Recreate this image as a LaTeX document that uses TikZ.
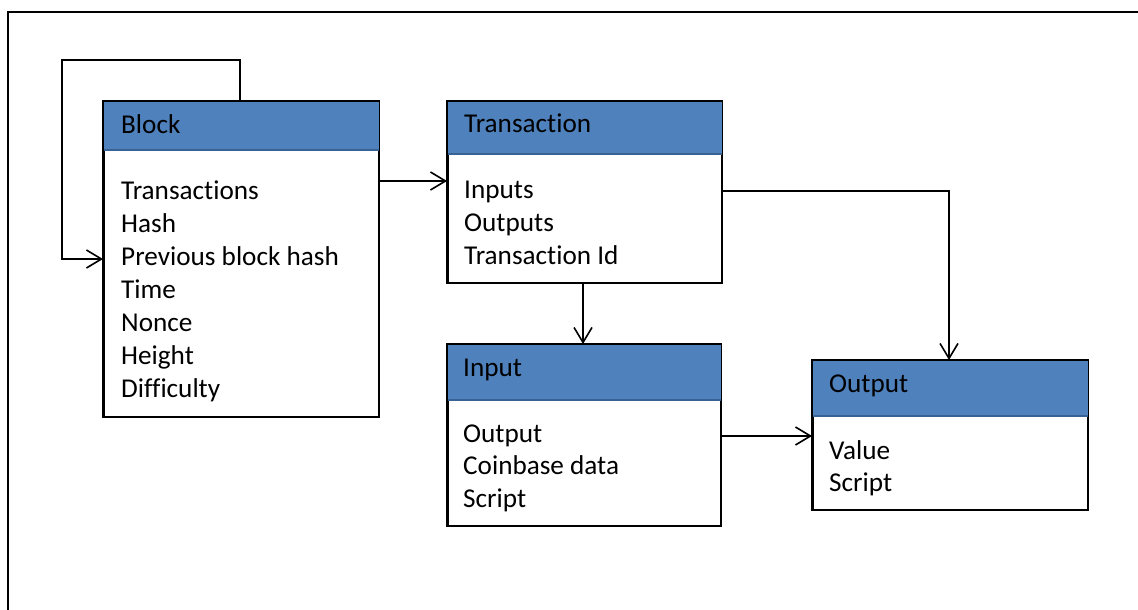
\documentclass[tikz,border=0pt]{standalone}
\usepackage{fontspec}
\setmainfont[Ligatures=NoCommon]{Carlito}
\usetikzlibrary{arrows.meta}
\definecolor{hdrfill}{HTML}{4F81BD}
\definecolor{hdrline}{HTML}{3A6193}
\begin{document}
\begin{tikzpicture}[x=1pt,y=-1pt,
  box/.style={draw=black, line width=1.6pt, fill=white, rectangle, anchor=north west, inner sep=0pt},
  lbl/.style={anchor=base west, inner sep=0pt, font=\fontsize{27.2}{33}\selectfont},
  arr/.style={line width=1.6pt, -{Straight Barb[length=15pt,width=18pt,line width=1.6pt]}},
  ln/.style={line width=1.6pt}]
\useasboundingbox (0,0) rectangle (1138,610);
\begin{scope}
  \clip (0,0) rectangle (1138,610);
  \draw[line width=2pt] (8,640) -- (8,12) -- (1160,12);
\end{scope}
% boxes
\node[box, minimum width=275pt, minimum height=315pt] (block) at (103,101) {};
\node[box, minimum width=274pt, minimum height=181pt] (tx) at (447,101) {};
\node[box, minimum width=273pt, minimum height=181pt] (in) at (447,344) {};
\node[box, minimum width=275pt, minimum height=149pt] (out) at (812,360) {};
% headers
\foreach \n/\h in {block/49, tx/53, in/56, out/56}{
  \fill[hdrfill] (\n.north west) rectangle ([yshift=-\h pt]\n.north east);
  \draw[hdrline, line width=2.2pt] ([yshift=-\h pt]\n.north west) -- ([yshift=-\h pt]\n.north east);
  \draw[ln] (\n.north west) rectangle (\n.south east);
}
% titles
\node[lbl] (blockT) at (121,133) {Block};
\node[lbl] (txT) at (464,132) {Transaction};
\node[lbl] (inT) at (463,376) {Input};
\node[lbl] (outT) at (829,392) {Output};
% block body
\node[lbl] (b1) at (121,199.5) {Transactions};
\node[lbl] (b2) at (121,232.5) {Hash};
\node[lbl] (b3) at (121,265.5) {Previous block hash};
\node[lbl] (b4) at (121,298.5) {Time};
\node[lbl] (b5) at (121,331.5) {Nonce};
\node[lbl] (b6) at (121,364.5) {Height};
\node[lbl] (b7) at (121,397.5) {Difficulty};
% transaction body
\node[lbl] (t1) at (464,198) {Inputs};
\node[lbl] (t2) at (464,231) {Outputs};
\node[lbl] (t3) at (464,264) {Transaction Id};
% input body
\node[lbl] (i1) at (463,442) {Output};
\node[lbl] (i2) at (463,474.5) {Coinbase data};
\node[lbl] (i3) at (463,507) {Script};
% output body
\node[lbl] (o1) at (829,459) {Value};
\node[lbl] (o2) at (829,491) {Script};
% connectors
\coordinate (lp1) at (240,60);
\coordinate (lp2) at (62,60);
\coordinate (lp3) at (62,259);
\draw[arr] (block.north -| lp1) -- (lp1) -- (lp2) -- (lp3) -- (lp3 -| block.west);
\coordinate (c1) at (0,181);
\draw[arr] (block.east |- c1) -- (tx.west |- c1);
\coordinate (c2) at (583,0);
\draw[arr] (tx.south -| c2) -- (in.north -| c2);
\coordinate (c3) at (949,191);
\draw[arr] (tx.east |- c3) -- (c3) -- (out.north -| c3);
\coordinate (c4) at (0,436);
\draw[arr] (in.east |- c4) -- (out.west |- c4);
\end{tikzpicture}
\end{document}
